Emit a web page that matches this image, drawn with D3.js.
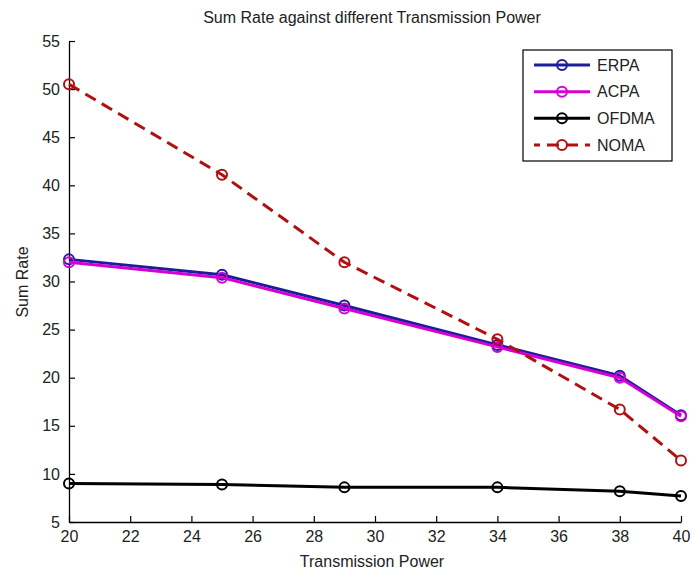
<!DOCTYPE html>
<html>
<head>
<meta charset="utf-8">
<script src="https://cdn.jsdelivr.net/npm/d3@7"></script>
<style>
  html, body { margin: 0; padding: 0; background: #fff; }
  svg { display: block; font-family: "Liberation Sans", Arial, sans-serif; }
</style>
</head>
<body>
<svg id="chart" width="692" height="572"></svg>
<script>
// Transmission power levels (x) and sum rate for each scheme
const power = [20, 25, 29, 34, 38, 40];
const erpa  = [32.3, 30.7, 27.5, 23.4, 20.2, 16.1];
const acpa  = [32.0, 30.4, 27.2, 23.2, 20.0, 16.0];
const ofdma = [9.0, 8.9, 8.6, 8.6, 8.2, 7.7];
const noma  = [50.5, 41.1, 32.0, 24.0, 16.7, 11.4];

const xTicks = [20, 22, 24, 26, 28, 30, 32, 34, 36, 38, 40];
const yTicks = [5, 10, 15, 20, 25, 30, 35, 40, 45, 50, 55];

const series = [
  { name: "ERPA",  values: erpa,  color: "#1c1c9c", dash: null },
  { name: "ACPA",  values: acpa,  color: "#d400d4", dash: null },
  { name: "OFDMA", values: ofdma, color: "#000000", dash: null },
  { name: "NOMA",  values: noma,  color: "#b01010", dash: "12,7" }
];

const svg = d3.select("#chart");
const m = { left: 69, right: 681, top: 41, bottom: 522 };

const x = d3.scaleLinear().domain([20, 40]).range([m.left, m.right]);
const y = d3.scaleLinear().domain([5, 55]).range([m.bottom, m.top]);

// Axes with inward ticks
const xAxis = d3.axisBottom(x).tickValues(xTicks).tickSizeInner(-6).tickSizeOuter(0).tickPadding(10);
const yAxis = d3.axisLeft(y).tickValues(yTicks).tickSizeInner(-6).tickSizeOuter(0).tickPadding(9);

const gx = svg.append("g").attr("transform", `translate(0,${m.bottom})`).call(xAxis);
const gy = svg.append("g").attr("transform", `translate(${m.left},0)`).call(yAxis);
[gx, gy].forEach(g => {
  g.selectAll("path.domain").attr("stroke", "#000").attr("stroke-width", 1.3);
  g.selectAll(".tick line").attr("stroke", "#000").attr("stroke-width", 1.2);
  g.selectAll(".tick text").attr("fill", "#222").style("font-size", "16px")
    .style("font-family", "'Liberation Sans', Arial, sans-serif");
});
gx.selectAll(".tick text").attr("dy", "0.65em");

// Lines and markers, drawn in legend order (later series on top)
const line = d3.line().x((d, i) => x(power[i])).y(d => y(d));
series.forEach(s => {
  svg.append("path")
    .datum(s.values)
    .attr("d", line)
    .attr("fill", "none")
    .attr("stroke", s.color)
    .attr("stroke-width", 3)
    .attr("stroke-dasharray", s.dash)
    .attr("stroke-linejoin", "round");
  svg.append("g").selectAll("circle")
    .data(s.values)
    .join("circle")
    .attr("cx", (d, i) => x(power[i]))
    .attr("cy", d => y(d))
    .attr("r", 5)
    .attr("fill", "none")
    .attr("stroke", s.color)
    .attr("stroke-width", 2);
});

// Title and axis labels
svg.append("text")
  .attr("x", 372).attr("y", 23)
  .attr("text-anchor", "middle")
  .style("font-size", "16px").attr("fill", "#222")
  .text("Sum Rate against different Transmission Power");

svg.append("text")
  .attr("x", 372).attr("y", 567)
  .attr("text-anchor", "middle")
  .style("font-size", "16px").attr("fill", "#222")
  .text("Transmission Power");

svg.append("text")
  .attr("transform", "translate(28,282) rotate(-90)")
  .attr("text-anchor", "middle")
  .style("font-size", "16px").attr("fill", "#222")
  .text("Sum Rate");

// Legend
const lg = svg.append("g");
lg.append("rect")
  .attr("x", 523).attr("y", 50).attr("width", 149).attr("height", 111)
  .attr("fill", "#fff").attr("stroke", "#000").attr("stroke-width", 1.2);
const rowY = d3.scalePoint().domain(series.map(s => s.name)).range([65, 145]);
series.forEach(s => {
  const yy = rowY(s.name);
  lg.append("line")
    .attr("x1", 534).attr("x2", 590).attr("y1", yy).attr("y2", yy)
    .attr("stroke", s.color).attr("stroke-width", 3)
    .attr("stroke-dasharray", s.dash ? "12,7" : null)
    .attr("stroke-dashoffset", s.dash ? 6 : null);
  lg.append("circle")
    .attr("cx", 562).attr("cy", yy).attr("r", 5)
    .attr("fill", "none").attr("stroke", s.color).attr("stroke-width", 2);
  lg.append("text")
    .attr("x", 597).attr("y", yy).attr("dy", "0.36em")
    .style("font-size", "16px").attr("fill", "#222")
    .text(s.name);
});
</script>
</body>
</html>
